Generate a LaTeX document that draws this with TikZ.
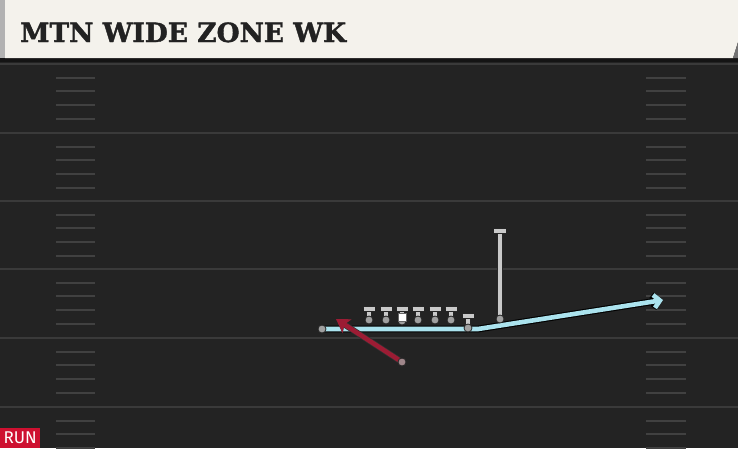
\documentclass[tikz,border=0pt]{standalone}
\usepackage{fontspec}
\usetikzlibrary{positioning}
\usetikzlibrary{arrows.meta}
\newfontfamily\titlefont{DejaVu Serif}[BoldFeatures={FakeBold=1.5}]
\newfontfamily\tagfont{Fira Sans}
\definecolor{field}{HTML}{232323}
\definecolor{cream}{HTML}{F4F2EC}
\definecolor{ink}{HTML}{222222}
\definecolor{yard}{HTML}{3A3A3A}
\definecolor{hashc}{HTML}{414141}
\definecolor{tgray}{HTML}{C9C9C9}
\definecolor{dotgray}{HTML}{A0A0A0}
\definecolor{routeblue}{HTML}{ABE3EE}
\definecolor{runred}{HTML}{9C1C34}
\definecolor{tagred}{HTML}{CE1030}

\begin{document}
\begin{tikzpicture}[x=1pt, y=-1pt,
			yardline/.style={draw=yard, line width=2.2pt},
			hash/.style={draw=hashc, line width=2pt},
			dot/.style={circle, fill=dotgray, draw=black!85, line width=0.8pt, inner sep=0pt, minimum size=8pt},
			stem/.style={draw=tgray, line width=3.6pt, preaction={draw=black!85, line width=5.2pt}},
			bar/.style={draw=tgray, line width=3.8pt, preaction={draw=black!85, line width=5.4pt}},
			route/.style={draw=routeblue, line width=4.6pt, line join=round, -{Straight Barb[length=6pt, width=13pt]},
				preaction={draw=black, line width=6.8pt, line join=round, -{Straight Barb[length=6pt, width=13pt]}}},
			run/.style={draw=runred, line width=4.6pt, -{Stealth[length=13pt, width=16pt, inset=3pt]},
				preaction={draw=black!80, line width=6pt, -{Stealth[length=13pt, width=16pt, inset=3pt]}}}
		]
			\useasboundingbox (0,0) rectangle (738,448);

			% Field
			\fill[field] (0,0) rectangle (738,448);
			\foreach \y in {64,133,201,269,338,407}{
				\draw[yardline] (0,\y) -- (738,\y);
				\foreach \k in {1,2,3,4}{
					\draw[hash] (56,\y+13.7*\k) -- (95,\y+13.7*\k);
					\draw[hash] (646,\y+13.7*\k) -- (686,\y+13.7*\k);
				}
			}

			% Header
			\fill[black!92] (0,57) rectangle (738,62);
			\fill[black!30] (0,0) rectangle (5,58);
			\fill[cream] (5,0) -- (738,0) -- (738,42) -- (733,58) -- (5,58) -- cycle;
			\fill[black!55] (738,42) -- (738,58) -- (733,58) -- cycle;
			\node[anchor=base west, inner sep=0pt, text=ink, font=\titlefont\bfseries\fontsize{26.5}{30}\selectfont] (title) at (20,42) {MTN WIDE ZONE WK};

			% Route
			\node[dot] (back) at (322,329) {};
			\coordinate (bend) at (478,329);
			\coordinate (routeend) at (663,300);
			\draw[route] (back.center) -- (bend) -- (routeend);
			\node[dot] at (back) {};

			% Line
			\foreach \x/\n in {369/a,386/b,418/d,435/e,451/f}{
				\coordinate (ol\n) at (\x,320);
				\draw[stem] (ol\n) -- ++(0,-11);
				\draw[bar] (ol\n) ++(-5.5,-11) -- ++(11,0);
				\node[dot] (ol\n dot) at (ol\n) {};
			}
			\coordinate (center) at (402,321);
			\draw[stem] (center) -- ++(0,-12);
			\draw[bar] (center) ++(-5.5,-12) -- ++(11,0);
			\node[dot] (center dot) at (center) {};
			\node[fill=white, draw=black!60, line width=0.4pt, minimum size=8pt, inner sep=0pt] (snap) at (402,317) {};

			\coordinate (te) at (468,328);
			\draw[stem] (te) -- ++(0,-12);
			\draw[bar] (te) ++(-5.5,-12) -- ++(11,0);
			\node[dot] (te dot) at (te) {};

			\coordinate (wing) at (500,319);
			\draw[stem] (wing) -- (500,231);
			\draw[bar] (494,231) -- (506,231);
			\node[dot] (wing dot) at (wing) {};

			% Runner
			\coordinate (tip) at (336,319);
			\node[dot] (rb) at (402,362) {};
			\draw[run] (rb.center) -- (tip);
			\node[dot, fill=dotgray!80!runred] at (rb) {};

			% Tag
			\node[fill=tagred, text=white, anchor=south west, minimum width=40pt, minimum height=20pt, inner sep=0pt,
				font=\tagfont\fontsize{17}{18}\selectfont] (tag) at (0,448) {RUN};
		\end{tikzpicture}
\end{document}
